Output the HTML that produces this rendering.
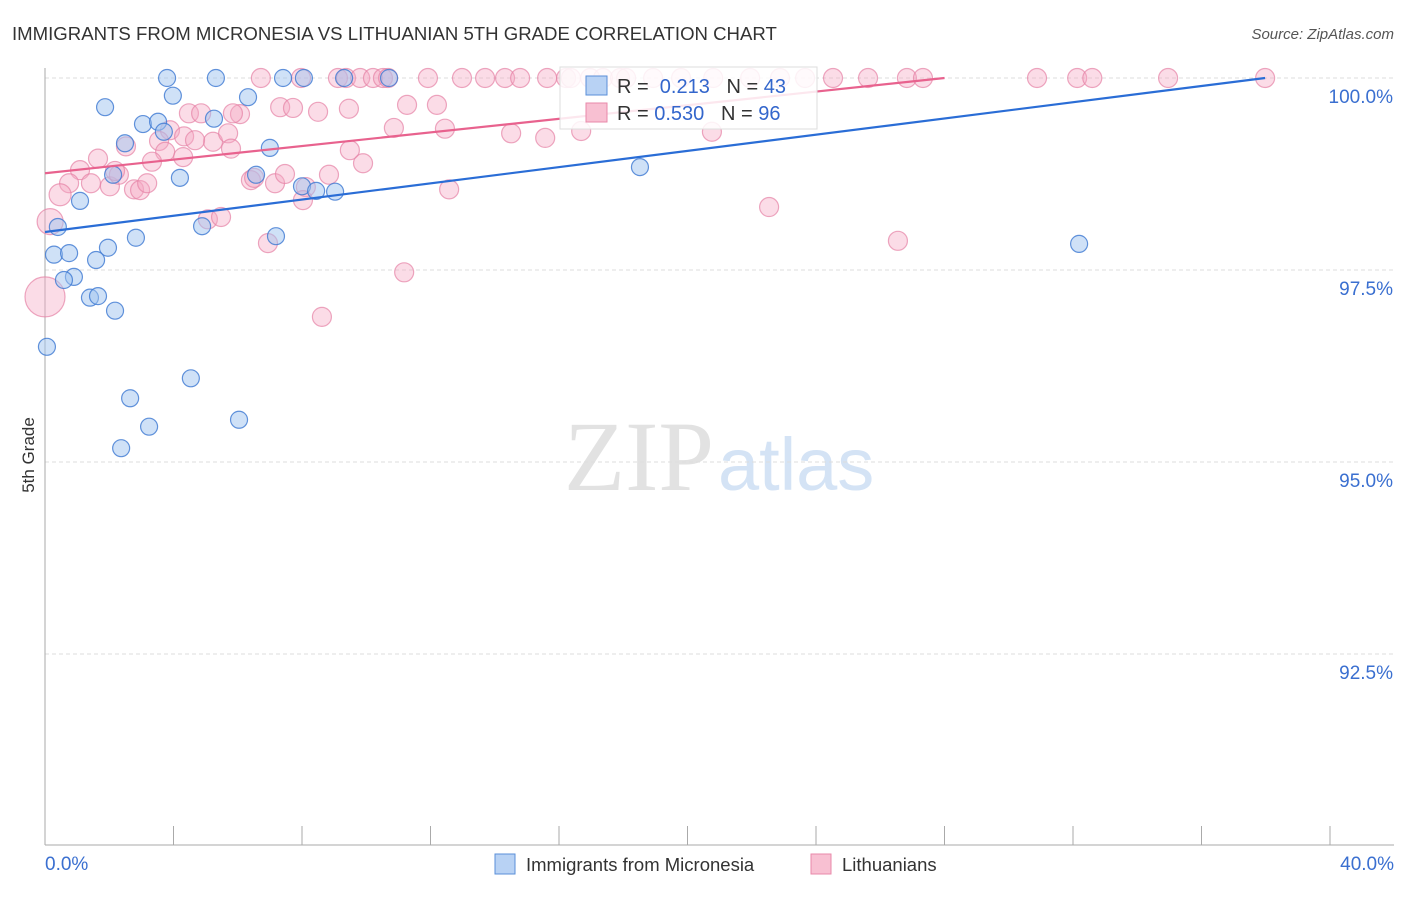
<!DOCTYPE html>
<html><head><meta charset="utf-8"><style>
body{margin:0;background:#fff;font-family:"Liberation Sans",sans-serif;}
</style></head><body>
<svg width="1406" height="892" xmlns="http://www.w3.org/2000/svg" id="chart">
<text x="12" y="40" font-size="18.6" fill="#333">IMMIGRANTS FROM MICRONESIA VS LITHUANIAN 5TH GRADE CORRELATION CHART</text>
<text x="1394" y="39" font-size="15" fill="#555" font-style="italic" text-anchor="end">Source: ZipAtlas.com</text>
<text x="714" y="490" font-size="100" fill="#e2e2e2" text-anchor="end" font-family="Liberation Serif,serif">ZIP</text>
<text x="718" y="490" font-size="74" fill="#d4e3f5">atlas</text>
<text x="34" y="455" font-size="17" fill="#333" text-anchor="middle" transform="rotate(-90 34 455)">5th Grade</text>
<g id="grid"></g><g id="axes"></g><g id="pts"></g><g id="lines"></g>
<g>
<rect x="560" y="67" width="257" height="62" fill="#fff" fill-opacity="0.85" stroke="#ddd"/>
<rect x="586" y="76" width="21" height="19" fill="#b8d2f4" stroke="#5a8fd8"/>
<rect x="586" y="103" width="21" height="19" fill="#f8c0d2" stroke="#e889aa"/>
<text x="617" y="93" font-size="20" fill="#333">R = <tspan fill="#3366cc">&#160;0.213</tspan>&#160;&#160;&#160;N = <tspan fill="#3366cc">43</tspan></text>
<text x="617" y="120" font-size="20" fill="#333">R = <tspan fill="#3366cc">0.530</tspan>&#160;&#160;&#160;N = <tspan fill="#3366cc">96</tspan></text>
</g>
<g>
<rect x="495" y="854" width="20" height="20" fill="#b8d2f4" stroke="#5a8fd8"/>
<text x="526" y="871" font-size="18.5" fill="#333">Immigrants from Micronesia</text>
<rect x="811" y="854" width="20" height="20" fill="#f8c0d2" stroke="#e889aa"/>
<text x="842" y="871" font-size="18.5" fill="#333">Lithuanians</text>
</g>
</svg>
<script>
const yTicks=[100,97.5,95,92.5];
const yTickLabels=["100.0%","97.5%","95.0%","92.5%"];
const xTickVals=[0,4,8,12,16,20,24,28,32,36,40];
const blueX=[3.80,5.32,7.41,8.06,9.31,10.71,1.87,3.98,6.32,3.05,3.52,3.70,5.26,2.49,7.00,4.20,2.12,1.09,0.40,4.89,0.28,0.75,1.96,2.83,7.19,1.59,0.90,0.59,1.40,1.65,2.18,0.06,4.54,2.65,3.24,6.04,2.37,6.57,8.00,8.44,9.03,18.52,32.19];
const blueY=[100,100,100,100,100,100,99.62,99.77,99.75,99.40,99.43,99.30,99.47,99.15,99.09,98.70,98.74,98.40,98.06,98.07,97.70,97.72,97.79,97.92,97.94,97.63,97.41,97.37,97.14,97.16,96.97,96.50,96.09,95.83,95.46,95.55,95.18,98.74,98.59,98.53,98.52,98.84,97.84];
const pinkX=[6.72,7.97,9.12,9.37,9.81,10.21,10.52,10.68,11.92,12.98,13.70,14.32,14.79,15.63,16.22,16.37,16.97,17.37,17.90,18.09,18.93,19.80,20.80,21.95,22.88,23.66,24.53,25.62,26.83,27.33,30.88,32.13,32.60,34.96,37.98,
7.32,7.72,8.50,9.46,11.27,12.20,4.48,4.86,6.07,5.85,3.89,3.55,4.33,5.23,4.67,5.70,5.79,3.74,4.30,3.33,2.52,1.65,1.09,0.75,1.43,2.02,2.30,2.77,2.96,3.18,2.18,0.47,0.16,0.0,6.41,6.51,7.16,7.47,8.12,8.84,9.49,9.90,10.86,12.45,12.58,14.51,15.57,16.69,20.76,5.07,5.48,6.94,11.18,8.62,22.54,26.55,8.03];
const pinkY=[100,100,100,100,100,100,100,100,100,100,100,100,100,100,100,100,100,100,100,100,100,100,100,100,100,100,100,100,100,100,100,100,100,100,100,
99.62,99.61,99.56,99.60,99.65,99.65,99.54,99.54,99.53,99.54,99.32,99.18,99.24,99.17,99.19,99.28,99.08,99.04,98.97,98.91,99.11,98.95,98.80,98.63,98.63,98.59,98.74,98.55,98.54,98.63,98.79,98.48,98.13,97.15,98.67,98.70,98.63,98.75,98.58,98.74,99.06,98.89,99.35,99.34,98.55,99.28,99.22,99.31,99.30,98.16,98.19,97.85,97.47,96.89,98.32,97.88,98.41];
const pinkBig=[[0.47,98.48,11],[0.16,98.13,13],[0.0,97.15,20]];
const blueTrend=[[0,97.995],[37.98,100]];
const pinkTrend=[[0,98.76],[28.0,100]];
const NS="http://www.w3.org/2000/svg";
const X=v=>45+v/40*1285;
const Y=v=>78+(100-v)/2.5*192;
function mk(tag,attrs,parent){const e=document.createElementNS(NS,tag);for(const k in attrs)e.setAttribute(k,attrs[k]);document.getElementById(parent).appendChild(e);return e;}
yTicks.forEach((t,i)=>{
 const l=mk('line',{x1:45,x2:1394,y1:Y(t),y2:Y(t),stroke:'#ddd','stroke-dasharray':'4 3'},'grid');
 
 
 const tx=mk('text',{x:1393,y:Y(t)+25,'font-size':19,fill:'#3a6fd0','text-anchor':'end'},'grid');
 tx.textContent=yTickLabels[i];
 
 
});
let ax=mk('line',{x1:45,x2:45,y1:68,y2:845,stroke:'#aaa'},'axes');


ax=mk('line',{x1:45,x2:1394,y1:845,y2:845,stroke:'#aaa'},'axes');


xTickVals.forEach(v=>{
 const t=mk('line',{x1:X(v),x2:X(v),y1:826,y2:845,stroke:'#aaa'},'axes');
 
 
});
[[0,"0.0%","start",45],[40,"40.0%","end",1394]].forEach(a=>{
 const t=mk('text',{x:a[3],y:870,'font-size':19,fill:'#3a6fd0','text-anchor':a[2]},'axes');
 t.textContent=a[1];
 
 
});
pinkX.forEach((v,i)=>{
 let r=9.5;pinkBig.forEach(b=>{if(b[0]===v&&b[1]===pinkY[i])r=b[2];});
 const c=mk('circle',{cx:X(v),cy:Y(pinkY[i]),r:r,fill:'rgba(244,168,194,0.4)',stroke:'rgba(230,130,165,0.7)','stroke-width':1.2},'pts');
 
 
});
blueX.forEach((v,i)=>{
 const c=mk('circle',{cx:X(v),cy:Y(blueY[i]),r:8.5,fill:'rgba(160,196,240,0.5)',stroke:'rgba(60,120,210,0.8)','stroke-width':1.2},'pts');
 
 
});
let ln=mk('line',{x1:X(blueTrend[0][0]),y1:Y(blueTrend[0][1]),x2:X(blueTrend[1][0]),y2:Y(blueTrend[1][1]),stroke:'#2a6dd6','stroke-width':2.2},'lines');


ln=mk('line',{x1:X(pinkTrend[0][0]),y1:Y(pinkTrend[0][1]),x2:X(pinkTrend[1][0]),y2:Y(pinkTrend[1][1]),stroke:'#e8628e','stroke-width':2.2},'lines');


</script>
</body></html>
